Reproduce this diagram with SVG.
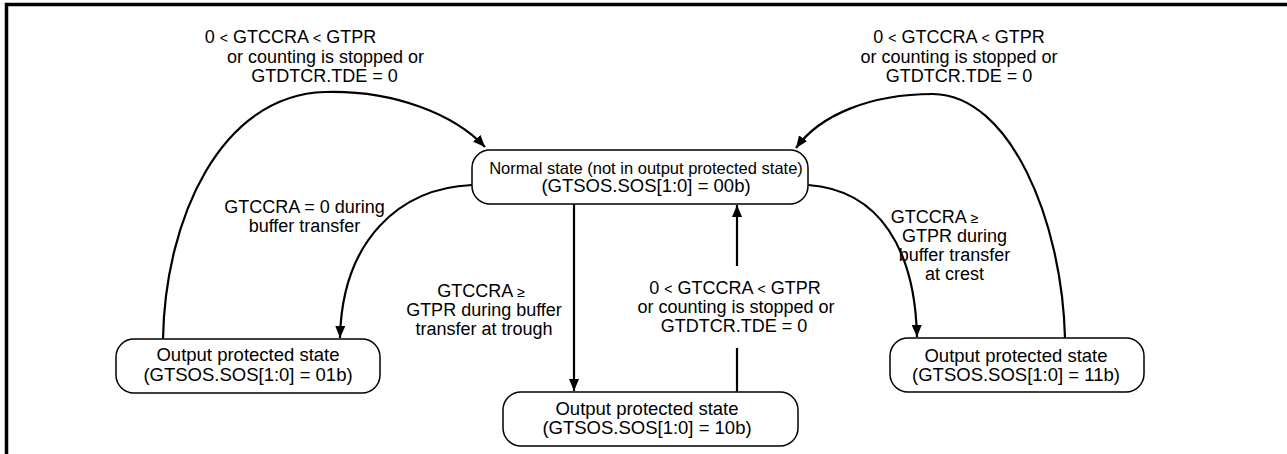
<svg xmlns="http://www.w3.org/2000/svg" width="1287" height="454" viewBox="0 0 1287 454">
<defs>
<style>
.frame{stroke:#000;stroke-width:3.5;fill:none}
.node rect{fill:#fff;stroke:#000;stroke-width:1.5}
.conn path,.conn line{fill:none;stroke:#000;stroke-width:2.2}
text{font-family:"Liberation Sans",Arial,sans-serif;fill:#000}
.nt{font-size:18.5px;text-anchor:middle}
.nt1{font-size:16.5px;text-anchor:middle}
.lb{font-size:18px;text-anchor:middle}
.sm{font-size:14px}
</style>
<marker id="ah" viewBox="0 0 12 10" refX="12" refY="5" markerWidth="12" markerHeight="10" markerUnits="userSpaceOnUse" orient="auto">
<path d="M0,0 L12,5 L0,10 z" fill="#000"/>
</marker>
</defs>
<rect width="1287" height="454" fill="#fff"/>
<path class="frame" d="M6.5,454 V4.5 H1287"/>

<g id="connectors" class="conn">
<path d="M163,339 C165,220 220,95 325,92 C395,90 455,115 485,147" marker-end="url(#ah)"/>
<path d="M1065,338 C1062,220 1010,95 933,94 C870,94 820,115 796,148" marker-end="url(#ah)"/>
<path d="M472,185 C400,188 342,240 340,338" marker-end="url(#ah)"/>
<path d="M808,185 C880,190 915,250 917,337" marker-end="url(#ah)"/>
<line x1="574" y1="204" x2="574" y2="391" marker-end="url(#ah)"/>
<line x1="737" y1="392" x2="737" y2="348"/>
<line x1="737" y1="266" x2="737" y2="205" marker-end="url(#ah)"/>
</g>

<g id="labels">
<text class="lb"><tspan x="290.5" y="43">0 <tspan class="sm">&lt;</tspan> GTCCRA <tspan class="sm">&lt;</tspan> GTPR</tspan><tspan x="325.5" y="63">or counting is stopped or</tspan><tspan x="324.5" y="82">GTDTCR.TDE = 0</tspan></text>
<text class="lb"><tspan x="959" y="43">0 <tspan class="sm">&lt;</tspan> GTCCRA <tspan class="sm">&lt;</tspan> GTPR</tspan><tspan x="959" y="63">or counting is stopped or</tspan><tspan x="959" y="82">GTDTCR.TDE = 0</tspan></text>
<text class="lb"><tspan x="304.5" y="213">GTCCRA = 0 during</tspan><tspan x="304.5" y="232">buffer transfer</tspan></text>
<text class="lb"><tspan x="481" y="297">GTCCRA <tspan class="sm">≥</tspan></tspan><tspan x="484" y="316">GTPR during buffer</tspan><tspan x="484" y="335">transfer at trough</tspan></text>
<text class="lb"><tspan x="934.5" y="223">GTCCRA <tspan class="sm">≥</tspan></tspan><tspan x="954.5" y="242">GTPR during</tspan><tspan x="954.5" y="261">buffer transfer</tspan><tspan x="954.5" y="280">at crest</tspan></text>
<text class="lb"><tspan x="735" y="294">0 <tspan class="sm">&lt;</tspan> GTCCRA <tspan class="sm">&lt;</tspan> GTPR</tspan><tspan x="736" y="313">or counting is stopped or</tspan><tspan x="734" y="332">GTDTCR.TDE = 0</tspan></text>
</g>

<g id="node-normal" class="node">
<rect x="472" y="150" width="336" height="54" rx="18"/>
<text class="nt1"><tspan x="646" y="174">Normal state (not in output protected state)</tspan><tspan x="646" y="192" font-size="18.5">(GTSOS.SOS[1:0] = 00b)</tspan></text>
</g>
<g id="node-01" class="node">
<rect x="116" y="339" width="264" height="54" rx="18"/>
<text class="nt"><tspan x="248" y="361">Output protected state</tspan><tspan x="248" y="381">(GTSOS.SOS[1:0] = 01b)</tspan></text>
</g>
<g id="node-10" class="node">
<rect x="503" y="392" width="295" height="54" rx="18"/>
<text class="nt"><tspan x="647" y="415">Output protected state</tspan><tspan x="647" y="434">(GTSOS.SOS[1:0] = 10b)</tspan></text>
</g>
<g id="node-11" class="node">
<rect x="890" y="338" width="254" height="54" rx="18"/>
<text class="nt"><tspan x="1016" y="362">Output protected state</tspan><tspan x="1016" y="381">(GTSOS.SOS[1:0] = 11b)</tspan></text>
</g>
</svg>
